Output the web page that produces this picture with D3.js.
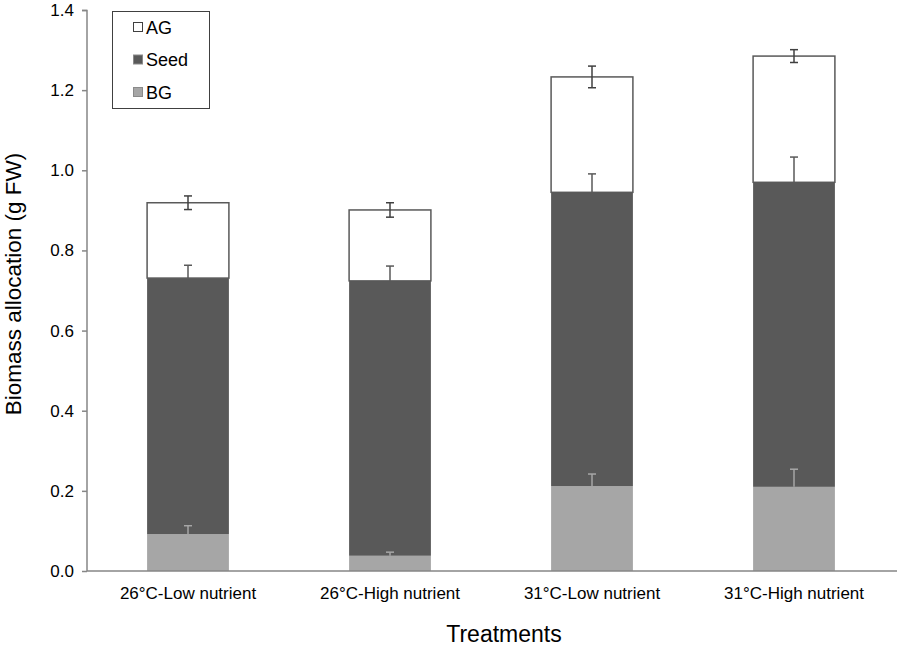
<!DOCTYPE html>
<html><head><meta charset="utf-8">
<script src="https://cdn.jsdelivr.net/npm/d3@7"></script>
<style>body{margin:0;background:#fff;}svg{display:block;font-family:"Liberation Sans",Arial,sans-serif;}</style>
</head><body>
<svg id="chart" width="897" height="647"></svg>
<script>
const categories = ["26°C-Low nutrient","26°C-High nutrient","31°C-Low nutrient","31°C-High nutrient"];
const seriesNames = ["BG","Seed","AG"];
const bgValues   = [0.092, 0.038, 0.212, 0.210];
const seedValues = [0.639, 0.686, 0.733, 0.760];
const agValues   = [0.188, 0.177, 0.288, 0.315];
const bgErr   = [0.021, 0.009, 0.030, 0.044];
const seedErr = [0.032, 0.037, 0.046, 0.063];
const agErr   = [0.017, 0.018, 0.027, 0.016];
const yTicks = [0,0.2,0.4,0.6,0.8,1.0,1.2,1.4];

const svg = d3.select("#chart");
const x = d3.scaleBand().domain(categories).range([87,895]).padding(0);
const y = d3.scaleLinear().domain([0,1.4]).range([571,10]);
const barW = x.bandwidth()*0.405;
const axisColor = "#868686";
const FONT = "Liberation Sans, Arial, sans-serif";

const rows = categories.map((c,i)=>({cat:c, BG:bgValues[i], Seed:seedValues[i], AG:agValues[i]}));
const stack = d3.stack().keys(seriesNames)(rows);
const fills = {BG:"#a6a6a6", Seed:"#595959", AG:"#ffffff"};
const errs = {BG:bgErr, Seed:seedErr, AG:agErr};
const errColor = {BG:"#a6a6a6", Seed:"#595959", AG:"#404040"};

stack.forEach(s=>{
  svg.append("g").selectAll("rect").data(s).join("rect")
    .attr("x", d=>x(d.data.cat)+x.bandwidth()/2-barW/2)
    .attr("width", barW)
    .attr("y", d=>y(d[1]))
    .attr("height", d=>y(d[0])-y(d[1]))
    .attr("fill", fills[s.key])
    .attr("stroke", s.key==="AG" ? "#595959" : "none")
    .attr("stroke-width", 1.5);
});

// error bars
stack.forEach(s=>{
  const g = svg.append("g").attr("stroke", errColor[s.key]).attr("stroke-width",1.5);
  s.forEach((d,i)=>{
    const cx = x(d.data.cat)+x.bandwidth()/2;
    const top = d[1], e = errs[s.key][i];
    const lo = s.key==="AG" ? top-e : top;
    g.append("line").attr("x1",cx).attr("x2",cx).attr("y1",y(top+e)).attr("y2",y(lo));
    g.append("line").attr("x1",cx-4).attr("x2",cx+4).attr("y1",y(top+e)).attr("y2",y(top+e));
    if (s.key==="AG") g.append("line").attr("x1",cx-4).attr("x2",cx+4).attr("y1",y(lo)).attr("y2",y(lo));
  });
});

// y axis
const yAxis = d3.axisLeft(y).tickValues(yTicks).tickFormat(d3.format(".1f")).tickSize(5).tickPadding(8);
const ga = svg.append("g").attr("transform","translate(87,0)").call(yAxis);
ga.select(".domain").attr("stroke",axisColor).attr("stroke-width",1.5).attr("d","M-5,10.5H0V571");
ga.selectAll(".tick line").attr("stroke",axisColor).attr("stroke-width",1.5);
ga.selectAll(".tick text").attr("font-size",17).attr("fill","#000").attr("font-family",FONT);

// x axis
const xAxis = d3.axisBottom(x).tickSize(0).tickPadding(16);
const gx = svg.append("g").attr("transform","translate(0,571)").call(xAxis);
gx.select(".domain").attr("stroke",axisColor).attr("stroke-width",1.5).attr("d","M87,0H897");
gx.selectAll(".tick text").attr("font-size",17).attr("fill","#000").attr("font-family",FONT);

// titles
svg.append("text").attr("x",504).attr("y",642).attr("text-anchor","middle")
  .attr("font-size",23).text("Treatments");
svg.append("text").attr("transform","translate(21,284) rotate(-90)").attr("text-anchor","middle")
  .attr("font-size",22.5).text("Biomass allocation (g FW)");

// legend
const lg = svg.append("g");
lg.append("rect").attr("x",112.5).attr("y",11.5).attr("width",97).attr("height",97)
  .attr("fill","#fff").attr("stroke","#404040").attr("stroke-width",1);
const legendItems = ["AG","Seed","BG"];
legendItems.forEach((k,i)=>{
  const cy = 27+i*32.5;
  lg.append("rect").attr("x",133.5).attr("y",cy-4.5).attr("width",9).attr("height",9)
    .attr("fill",fills[k]).attr("stroke", k==="AG"?"#404040":"#8a8a8a").attr("stroke-width",1);
  lg.append("text").attr("x",146).attr("y",cy+6.5).attr("font-size",18).text(k);
});
</script>
</body></html>
